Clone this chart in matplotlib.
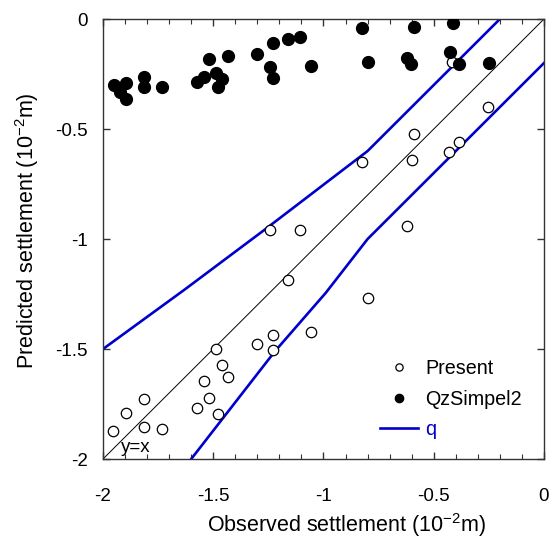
import matplotlib
matplotlib.use("Agg")
import matplotlib.pyplot as plt
from matplotlib.ticker import MultipleLocator
import numpy as np

plt.rcParams['font.family'] = ['Liberation Sans', 'DejaVu Sans']
plt.rcParams['mathtext.fontset'] = 'custom'
plt.rcParams['mathtext.rm'] = 'Liberation Sans'
plt.rcParams['mathtext.it'] = 'Liberation Sans:italic'
plt.rcParams['mathtext.default'] = 'regular'

# Present (open circles)
present_obs = [-1.953, -1.897, -1.814, -1.814, -1.734, -1.572, -1.544, -1.518, -1.477,
               -1.488, -1.462, -1.435, -1.300, -1.228, -1.228, -1.057,
               -1.243, -1.107, -1.161, -0.798, -0.825, -0.621, -0.599, -0.590,
               -0.431, -0.385, -0.254, -0.419]
present_pred = [-1.871, -1.789, -1.729, -1.855, -1.864, -1.768, -1.647, -1.723, -1.795,
                -1.501, -1.573, -1.629, -1.479, -1.435, -1.506, -1.424,
                -0.959, -0.959, -1.186, -1.268, -0.650, -0.941, -0.641, -0.523,
                -0.605, -0.559, -0.400, -0.197]

# QzSimpel2 (filled circles)
qz_obs = [-1.950, -1.923, -1.897, -1.897, -1.814, -1.814, -1.734, -1.572, -1.544,
          -1.518, -1.488, -1.462, -1.477, -1.435, -1.300, -1.228, -1.243, -1.228,
          -1.163, -1.107, -1.057, -0.824, -0.588, -0.411, -0.797, -0.620, -0.605,
          -0.426, -0.385, -0.249]
qz_pred = [-0.300, -0.330, -0.289, -0.365, -0.262, -0.311, -0.311, -0.285, -0.262,
           -0.183, -0.247, -0.273, -0.311, -0.168, -0.161, -0.111, -0.220, -0.270,
           -0.092, -0.080, -0.214, -0.042, -0.035, -0.017, -0.197, -0.176, -0.205,
           -0.151, -0.205, -0.201]

# q bounds
q_upper_x = [-2.0, -1.63, -1.27, -0.80, -0.20]
q_upper_y = [-1.5, -1.23, -0.96, -0.60, 0.0]
q_lower_x = [-1.60, -1.22, -0.99, -0.80, 0.0]
q_lower_y = [-2.0, -1.51, -1.245, -1.0, -0.2]

tick_vals = [-2, -1.5, -1, -0.5, 0]
tick_labels = ['-2', '-1.5', '-1', '-0.5', '0']

fig = plt.figure(figsize=(5.52, 5.39), dpi=100)
ax = fig.add_axes([0.1866, 0.1484, 0.7989, 0.8163])

ax.plot([-2, 0], [-2, 0], color='black', lw=0.7, zorder=1)
ax.plot(q_upper_x, q_upper_y, color='#0000CC', lw=1.9, zorder=2)
ax.plot(q_lower_x, q_lower_y, color='#0000CC', lw=1.9, zorder=2, label='q')
ax.plot(present_obs, present_pred, 'o', ms=7.5, mfc='white', mec='black', mew=0.9,
        zorder=3, label='Present')
ax.plot(qz_obs, qz_pred, 'o', ms=8.5, mfc='black', mec='black', zorder=4,
        label='QzSimpel2')

ax.text(-1.918, -1.97, 'y=x', fontsize=13.5, ha='left', va='baseline')

ax.set_xlim(-2, 0)
ax.set_ylim(-2, 0)
ax.xaxis.set_minor_locator(MultipleLocator(0.1))
ax.set_xticks(tick_vals)
ax.set_xticklabels(tick_labels)
ax.set_yticks(tick_vals)
ax.set_yticklabels(tick_labels)
ax.tick_params(which='both', direction='in', top=True, right=True, color='#333333')
ax.tick_params(which='major', length=5, width=1, labelsize=13.5)
ax.tick_params(axis='x', which='major', pad=21)
ax.tick_params(axis='y', which='major', pad=11)
ax.tick_params(which='minor', length=3.5, width=0.8)
for s in ax.spines.values():
    s.set_color('#333333')
    s.set_linewidth(1.0)

ax.set_xlabel('Observed settlement (10$^{-2}$m)', fontsize=15.5, labelpad=4)
ax.set_ylabel('Predicted settlement (10$^{-2}$m)', fontsize=15.5, labelpad=10)
ax.xaxis.label.set_x(0.553)
ax.yaxis.label.set_y(0.52)

handles, labels = ax.get_legend_handles_labels()
order = [1, 2, 0]
leg = ax.legend([handles[i] for i in order], [labels[i] for i in order],
                loc='upper left', bbox_to_anchor=(0.628, 0.228), frameon=False,
                fontsize=14.2, handlelength=1.93, handletextpad=0.35,
                labelspacing=0.6, markerscale=0.7, borderpad=0, borderaxespad=0)
for t, c in zip(leg.get_texts(), ['black', 'black', '#0000CC']):
    t.set_color(c)

fig.savefig('out.png', dpi=100)
